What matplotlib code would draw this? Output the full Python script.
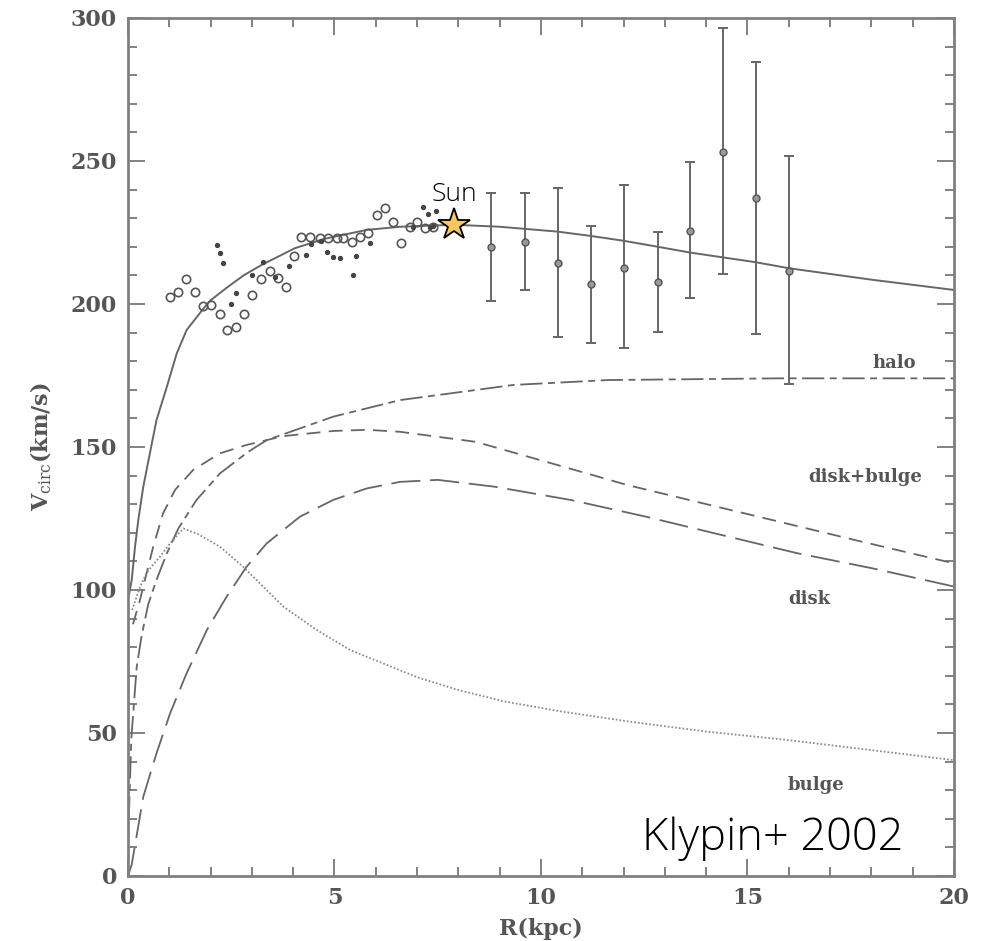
import numpy as np
import matplotlib
matplotlib.use('Agg')
import matplotlib.pyplot as plt

plt.rcParams['lines.scale_dashes'] = False
plt.rcParams['mathtext.fontset'] = 'custom'
plt.rcParams['mathtext.rm'] = 'DejaVu Serif'
plt.rcParams['mathtext.bf'] = 'DejaVu Serif:bold'
plt.rcParams['font.family'] = 'DejaVu Serif'

# total rotation curve (solid)
r_total = [0.02, 0.09, 0.17, 0.25, 0.37, 0.53, 0.69, 0.94, 1.18, 1.42, 1.86, 2.0, 2.42, 2.8,
           3.23, 4.04, 4.76, 5.78, 6.59, 7.9, 9.0, 10.4, 11.2, 12.0, 12.83, 13.6, 14.4,
           15.2, 16.0, 18.0, 20.0]
v_total = [98, 103.5, 115.1, 124.5, 136.1, 147.8, 159.4, 171, 182.7, 190.9, 199, 201.3, 206,
           210, 213.6, 219.5, 222.8, 225.9, 227, 227.7, 227, 225.3, 223.8, 222.1, 220, 218,
           216.3, 214.6, 212.5, 208.5, 204.9]

# halo
r_halo = [0.02, 0.08, 0.21, 0.33, 0.49, 0.69, 0.94, 1.22, 1.66, 2.23, 2.91, 3.36, 4.97,
          6.59, 9.34, 11.63, 15.76, 20.0]
v_halo = [20, 48, 73, 84, 95, 103.5, 112.8, 121.5, 131.5, 140.8, 148.3, 152.4, 160.6,
          166.4, 171.7, 173.4, 174, 174]

# disk+bulge
r_db = [0.12, 0.29, 0.45, 0.61, 0.85, 1.14, 1.58, 2.23, 2.87, 3.76, 4.97, 5.8, 6.59,
        8.42, 10.25, 12.09, 13.92, 15.76, 17.59, 20.0]
v_db = [88, 96.5, 105.8, 115.1, 126.8, 135, 142, 147.8, 150.7, 153.8, 155.6, 156, 155.3,
        151.8, 144.3, 136.7, 130.3, 123.9, 117.5, 109.3]

# disk
r_disk = [0.0, 0.09, 0.37, 0.69, 1.02, 1.42, 1.91, 2.39, 2.87, 3.36, 4.16, 4.97, 5.78,
          6.59, 7.5, 8.88, 10.71, 12.55, 14.38, 16.22, 18.05, 20.0]
v_disk = [0, 4, 27.7, 42.9, 56.9, 70.9, 86, 97.7, 108.1, 116.3, 125.6, 131.5, 135.5,
          137.8, 138.5, 136.1, 131.5, 125.6, 119.2, 112.8, 107.5, 101.2]

# bulge
r_bulge = [0.1, 0.29, 0.45, 0.77, 1.02, 1.34, 1.7, 2.23, 2.79, 3.76, 4.57, 5.38, 6.18,
           7.0, 8.0, 9.12, 10.5, 12.18, 14.0, 16.0, 18.0, 20.0]
v_bulge = [93, 101, 106, 111.6, 116.3, 121.5, 119.5, 115.1, 108.1, 94.2, 86, 79, 74.3,
           69.5, 65, 61, 57.5, 53.9, 50.5, 47.5, 44, 40.5]

# inner data (open circles and dots)
r_open = [1.02, 1.21, 1.41, 1.63, 1.82, 2.0, 2.22, 2.40, 2.61, 2.81, 3.01, 3.21, 3.43, 3.63,
          3.82, 4.01, 4.20, 4.40, 4.65, 4.85, 5.05, 5.21, 5.42, 5.62, 5.82, 6.02, 6.22,
          6.42, 6.61, 6.83, 6.99, 7.19, 7.39]
v_open = [202.3, 204.2, 208.6, 204.3, 199.3, 199.7, 196.5, 190.9, 192.1, 196.5, 203.1, 208.7,
          211.5, 209.2, 205.8, 216.8, 223.5, 223.5, 222.9, 222.9, 222.9, 222.9, 221.8, 223.5,
          224.9, 231.1, 233.4, 228.7, 221.2, 227, 228.7, 226.4, 227]
r_dot = [2.15, 2.23, 2.30, 2.49, 2.61, 3.0, 3.27, 3.55, 3.89, 4.32, 4.44, 4.68, 4.81, 4.97,
         5.13, 5.46, 5.52, 5.86, 6.91, 7.15, 7.27, 7.31, 7.39, 7.45]
v_dot = [220.6, 217.7, 214.5, 200, 204, 210, 214.7, 209.3, 213.3, 217.1, 221, 222.1, 218,
         216.5, 216, 210.1, 216.9, 221.4, 227, 234, 231.3, 227, 227.4, 232.5]

# outer points with error bars
r_err = [8.8, 9.61, 10.40, 11.20, 12.01, 12.83, 13.61, 14.40, 15.21, 16.01]
v_err = [219.9, 221.6, 214.2, 206.9, 212.7, 207.6, 225.6, 253.3, 236.9, 211.6]
v_top = [238.8, 238.7, 240.4, 227.4, 241.6, 225.3, 249.8, 296.4, 284.5, 251.7]
v_bot = [201, 204.9, 188.4, 186.2, 184.5, 190.1, 202.2, 210.5, 189.4, 172]

sun_r, sun_v = 7.9, 227.5

labels = ['halo', 'disk+bulge', 'disk', 'bulge']
label_r = [18.55, 17.85, 16.5, 16.66]
label_v = [179.4, 139.6, 96.9, 31.8]

gray = '#666666'
txt = '#555555'

fig = plt.figure(figsize=(9.93, 9.41), dpi=100)
ax = fig.add_axes([0.1289, 0.0691, 0.8318, 0.9118])

ax.plot(r_total, v_total, color=gray, lw=1.4)
ax.plot(r_halo, v_halo, color=gray, lw=1.3, dashes=(16, 4, 5, 4))
ax.plot(r_db, v_db, color=gray, lw=1.3, dashes=(10, 6))
ax.plot(r_disk, v_disk, color=gray, lw=1.3, dashes=(21, 7))
ax.plot(r_bulge, v_bulge, color='#888888', lw=1.3, dashes=(1.2, 1.5))

ax.plot(r_open, v_open, 'o', ms=6, mfc='none', mec='#555555', mew=1.2)
ax.plot(r_dot, v_dot, 'o', ms=2.8, color='#444444')

v_err = np.array(v_err)
yerr = [v_err - np.array(v_bot), np.array(v_top) - v_err]
ax.errorbar(r_err, v_err, yerr=yerr, fmt='o', ms=5, mfc='#999999', mec='#555555',
            ecolor=gray, elinewidth=1.4, capsize=3.5, capthick=1.4)

ax.plot(sun_r, sun_v, marker='*', ms=24, mfc='#f9c65e', mec='black', mew=1.3, zorder=5)
ax.text(sun_r, 236, 'Sun', ha='center', va='baseline', fontsize=19,
        family=['Open Sans', 'Roboto'], fontweight='light', color='black')
ax.text(15.62, 9, 'Klypin+ 2002', ha='center', va='baseline', fontsize=32.5,
        family=['Open Sans', 'Roboto'], fontweight='light', color='black')

for t, x, y in zip(labels, label_r, label_v):
    ax.text(x, y, t, ha='center', va='center', fontsize=13, fontweight='bold', color=txt)

ax.set_xlim(0, 20)
ax.set_ylim(0, 300)
ax.set_xticks(range(0, 21, 5))
ax.set_xticks(range(0, 21), minor=True)
ax.set_yticks(range(0, 301, 50))
ax.set_yticks(range(0, 301, 10), minor=True)
ax.tick_params(which='both', direction='in', top=True, right=True, color='#777777',
               width=1.3, labelsize=16, labelcolor=txt)
ax.tick_params(which='major', length=12, pad=8)
ax.tick_params(which='minor', length=6.5)
for lab in ax.get_xticklabels() + ax.get_yticklabels():
    lab.set_fontweight('bold')
for s in ax.spines.values():
    s.set_color('#808080')
    s.set_linewidth(2)

ax.set_xlabel('R(kpc)', fontsize=16, fontweight='bold', color=txt, labelpad=6)
ax.set_ylabel(r'$\mathbf{V}_{\rm circ}\mathbf{(km/s)}$', fontsize=16, color=txt, labelpad=12)

fig.savefig('out.png', dpi=100, facecolor='white')
